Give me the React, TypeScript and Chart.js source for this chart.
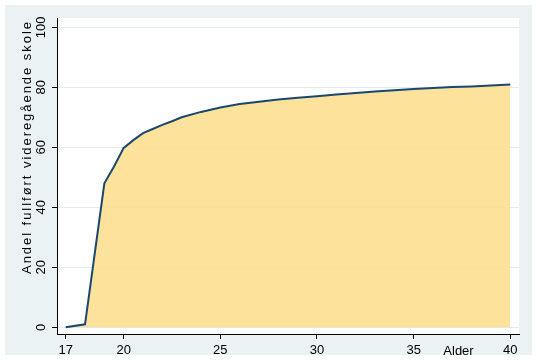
import { useEffect, useRef } from "react";
import { Chart, registerables } from "chart.js";

Chart.register(...registerables);

// Age (years) and share that has completed upper secondary school (%)
const ages = [17, 18, 19, 19.5, 20, 20.5, 21, 21.5, 22, 22.5, 23, 24, 25, 26, 27, 28, 29, 30, 31, 32, 33, 34, 35, 36, 37, 38, 39, 40];
const shares = [0, 1.0, 48.0, 53.6, 59.8, 62.4, 64.7, 66.1, 67.5, 68.7, 70.0, 71.8, 73.3, 74.4, 75.2, 75.9, 76.5, 77.0, 77.6, 78.1, 78.6, 79.0, 79.4, 79.8, 80.1, 80.3, 80.6, 80.9];

const xTickValues = [17, 20, 25, 30, 35, 40];
const yTickValues = [0, 20, 40, 60, 80, 100];
const xTitle = "Alder";
const yTitle = "Andel fullført videregående skole";

const FONT = "'Liberation Sans', Arial, sans-serif";

const decorPlugin = {
  id: "decor",
  beforeDraw(chart: any) {
    const { ctx, chartArea } = chart;
    ctx.save();
    ctx.fillStyle = "#ffffff";
    ctx.fillRect(0, 0, chart.width, chart.height);
    ctx.fillStyle = "#EAF2F3";
    ctx.fillRect(5, 5, chart.width - 10, chart.height - 10);
    ctx.fillStyle = "#ffffff";
    ctx.fillRect(chartArea.left, chartArea.top, chartArea.right - chartArea.left, chartArea.bottom - chartArea.top);
    ctx.restore();
  },
  afterDraw(chart: any) {
    const { ctx } = chart;
    const yScale = chart.scales.y;
    ctx.save();
    ctx.fillStyle = "#000000";
    ctx.font = `13px ${FONT}`;
    // y tick labels, rotated
    for (const v of yTickValues) {
      const py = yScale.getPixelForValue(v);
      ctx.save();
      ctx.translate(45, py);
      ctx.rotate(-Math.PI / 2);
      ctx.textAlign = "center";
      ctx.textBaseline = "alphabetic";
      ctx.fillText(String(v), 0, 0);
      ctx.restore();
    }
    // y title, rotated, spaced letters
    ctx.save();
    ctx.translate(30.5, 274);
    ctx.rotate(-Math.PI / 2);
    ctx.textAlign = "left";
    ctx.textBaseline = "alphabetic";
    const chars = Array.from(yTitle);
    const widths = chars.map((c) => ctx.measureText(c).width);
    const total = widths.reduce((a, b) => a + b, 0);
    const span = 252;
    const gap = (span - total) / (chars.length - 1);
    let x = 0;
    chars.forEach((c, i) => {
      ctx.fillText(c, x, 0);
      x += widths[i] + gap;
    });
    ctx.restore();
    // x title
    ctx.textAlign = "center";
    ctx.textBaseline = "alphabetic";
    ctx.fillText(xTitle, 458.5, 354.5);
    ctx.restore();
  },
};

export default function App() {
  const canvasRef = useRef<HTMLCanvasElement | null>(null);

  useEffect(() => {
    const canvas = canvasRef.current;
    if (!canvas) return;
    const chart = new Chart(canvas, {
      type: "line",
      data: {
        datasets: [
          {
            data: ages.map((a, i) => ({ x: a, y: shares[i] })),
            borderColor: "#1A476F",
            borderWidth: 2,
            backgroundColor: "rgba(253,223,144,0.9)",
            fill: { value: 0 },
            pointRadius: 0,
            tension: 0,
          },
        ],
      },
      options: {
        animation: false,
        responsive: false,
        devicePixelRatio: 1,
        layout: { padding: { left: 0, top: 18, right: 18, bottom: 0 } },
        plugins: {
          legend: { display: false },
          tooltip: { enabled: false },
        },
        scales: {
          x: {
            type: "linear",
            min: 16.55,
            max: 40.45,
            afterBuildTicks: (scale: any) => {
              scale.ticks = xTickValues.map((v) => ({ value: v }));
            },
            afterFit: (scale: any) => {
              scale.height = 26;
            },
            grid: {
              drawOnChartArea: false,
              drawTicks: true,
              tickLength: 5,
              tickColor: "#000000",
            },
            border: { display: true, color: "#000000", width: 1 },
            ticks: {
              color: "#000000",
              font: { family: FONT, size: 13 },
              padding: 4,
              maxRotation: 0,
              autoSkip: false,
              callback: (v: any) => String(v),
            },
          },
          y: {
            type: "linear",
            min: -2.23,
            max: 103.1,
            afterBuildTicks: (scale: any) => {
              scale.ticks = yTickValues.map((v) => ({ value: v }));
            },
            afterFit: (scale: any) => {
              scale.width = 57;
            },
            grid: {
              drawOnChartArea: true,
              drawTicks: true,
              tickLength: 5,
              color: "#E4EAEB",
              tickColor: "#000000",
            },
            border: { display: true, color: "#000000", width: 1 },
            ticks: { display: false },
          },
        },
      },
      plugins: [decorPlugin],
    });
    return () => chart.destroy();
  }, []);

  return (
    <div style={{ position: "fixed", left: 0, top: 0, width: 537, height: 360 }}>
      <canvas ref={canvasRef} width={537} height={360} style={{ display: "block" }} />
    </div>
  );
}
